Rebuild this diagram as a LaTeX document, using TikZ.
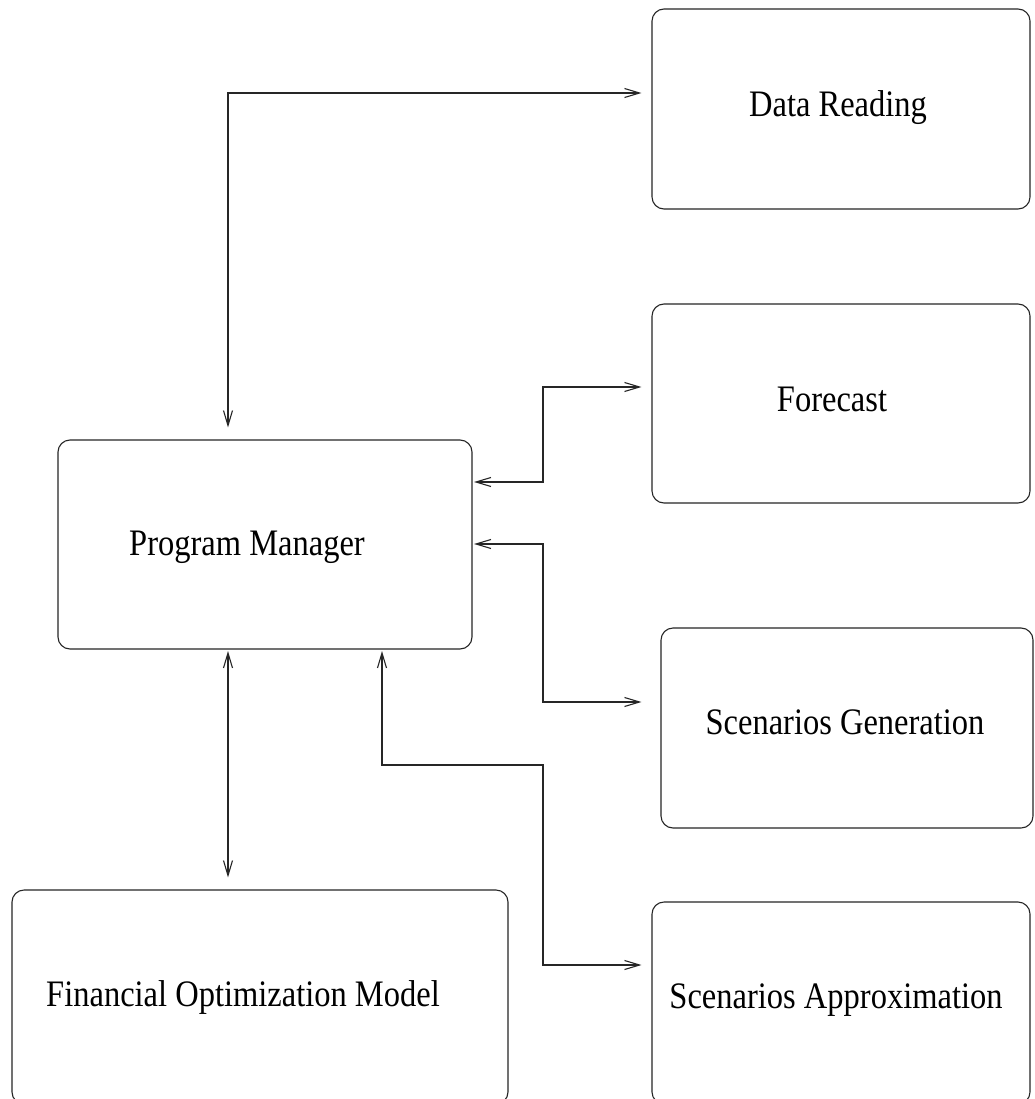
\documentclass[tikz,border=0pt]{standalone}
\usepackage{fontspec}
\usepackage{graphicx}
\setmainfont{Liberation Serif}
\usetikzlibrary{arrows.meta}
\tikzset{
  box/.style={draw=black!85, line width=1.1pt, rounded corners=12pt, rectangle, inner sep=0pt},
  lbl/.style={anchor=base, inner sep=0pt, font=\fontsize{32.5}{36}\selectfont},
  conn/.style={draw=black!85, line width=1.1pt, {Straight Barb[length=15pt,width=9pt]}-{Straight Barb[length=15pt,width=9pt]}},
}
\newcommand{\tall}[1]{\scalebox{1}[1.15]{#1}}
\begin{document}
\begin{tikzpicture}[x=1pt,y=-1pt]
\clip (0,0) rectangle (1034,1099);
\fill[white] (0,0) rectangle (1034,1099);
% boxes
\node[box, minimum width=378pt, minimum height=200pt] (dr) at (841,109) {};
\node[box, minimum width=378pt, minimum height=199pt] (fc) at (841,403.5) {};
\node[box, minimum width=372pt, minimum height=200pt] (sg) at (847,728) {};
\node[box, minimum width=378pt, minimum height=202pt] (sa) at (841,1003) {};
\node[box, minimum width=414pt, minimum height=209pt] (pm) at (265,544.5) {};
\node[box, minimum width=496pt, minimum height=214pt] (fom) at (260,997) {};
% labels
\node[lbl] (tdr) at (838,117) {\tall{Data Reading}};
\node[lbl] (tfc) at (832,411) {\tall{Forecast}};
\node[lbl] (tsg) at (845,734) {\tall{Scenarios Generation}};
\node[lbl] (tsa) at (836,1008) {\tall{Scenarios Approximation}};
\node[lbl] (tpm) at (247,555) {\tall{Program Manager}};
\node[lbl] (tfom) at (243,1006) {\tall{Financial Optimization Model}};
% bend points
\coordinate (k1) at (228,93);
\coordinate (k2a) at (543,482);
\coordinate (k2b) at (543,387);
\coordinate (k3a) at (543,544);
\coordinate (k3b) at (543,702);
\coordinate (k5a) at (382,765);
\coordinate (k5b) at (543,765);
\coordinate (k5c) at (543,965);
% connectors
\draw[conn, shorten <=12pt, shorten >=10pt] (pm.north -| k1) -- (k1) -- (dr.west |- k1);
\draw[conn, shorten <=1.5pt, shorten >=10pt] (pm.east |- k2a) -- (k2a) -- (k2b) -- (fc.west |- k2b);
\draw[conn, shorten <=1.5pt, shorten >=19pt] (pm.east |- k3a) -- (k3a) -- (k3b) -- (sg.west |- k3b);
\draw[conn, shorten <=1.5pt, shorten >=12pt] (pm.south -| k1) -- (fom.north -| k1);
\draw[conn, shorten <=1.5pt, shorten >=10pt] (pm.south -| k5a) -- (k5a) -- (k5b) -- (k5c) -- (sa.west |- k5c);
\end{tikzpicture}
\end{document}
